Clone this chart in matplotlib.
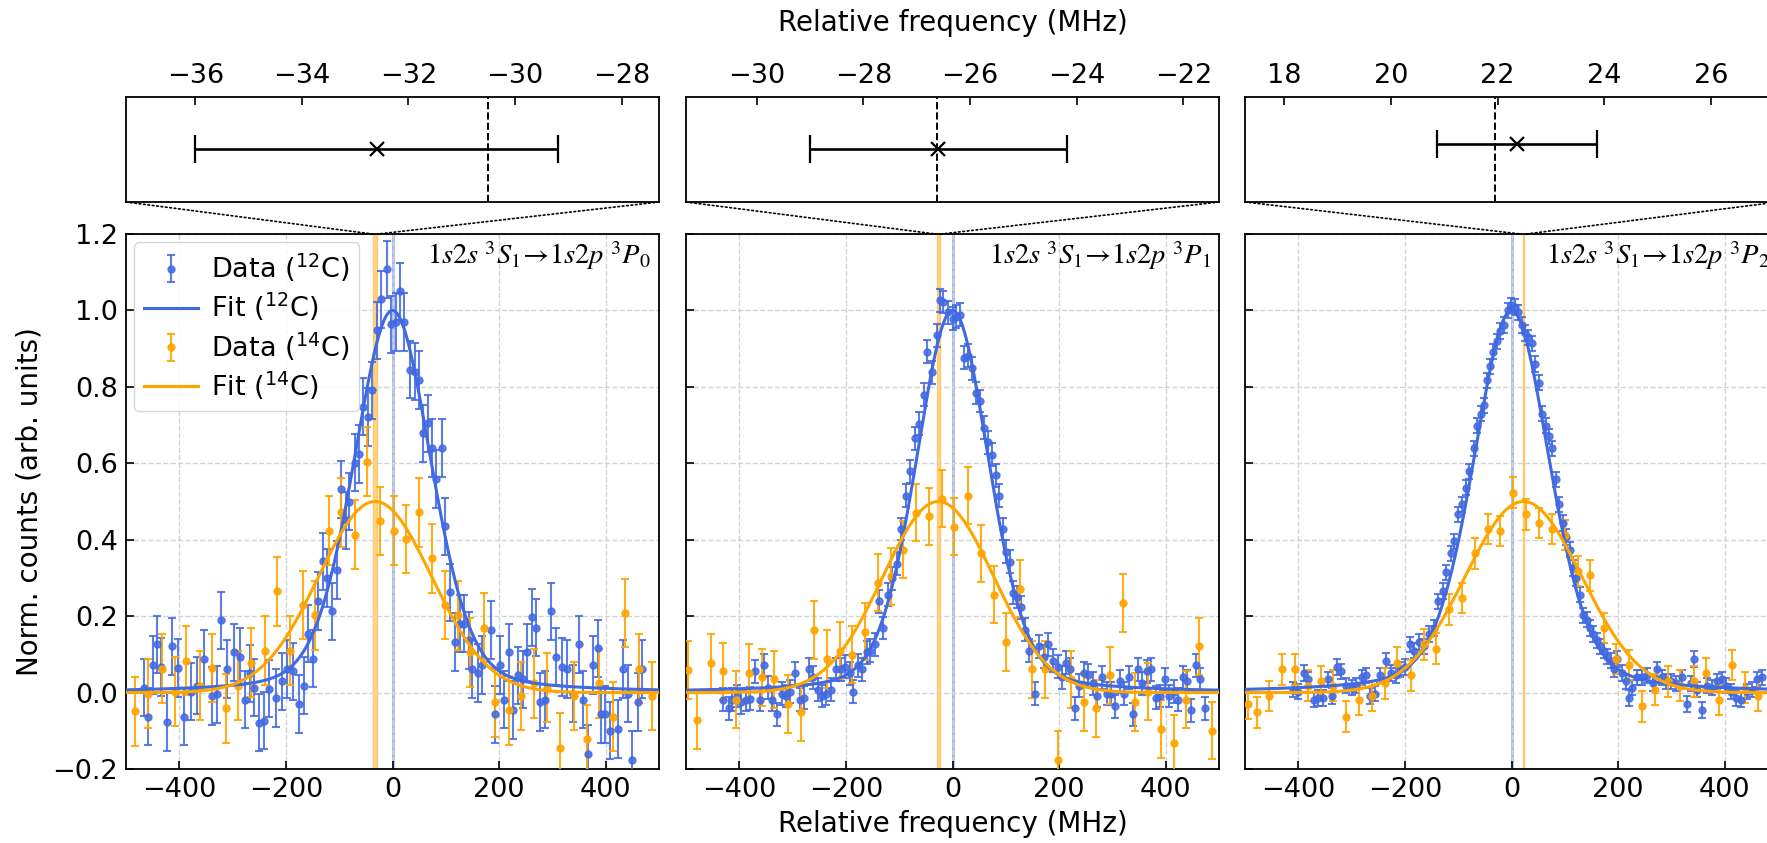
import numpy as np
import matplotlib
matplotlib.use("Agg")
import matplotlib.pyplot as plt
from matplotlib.patches import ConnectionPatch

plt.rcParams['font.family'] = ['DejaVu Sans']
plt.rcParams['mathtext.fontset'] = 'dejavusans'

BLUE = '#4169E1'
ORANGE = '#FFA500'

# ---- panel 1 (3P0) ----
c12_x1 = [-466, -458, -450, -442, -435, -424, -413, -403, -391, -378, -366, -353, -338, -330, -321, -311,
          -298, -287, -277, -268, -260, -250, -242, -232, -218, -208, -197, -187, -175, -166, -158, -149,
          -140, -130, -122, -113, -105, -97, -88, -82, -71, -63, -55, -46, -39, -29, -21, -11, -2, 7, 15,
          21, 32, 42, 49, 57, 67, 74, 82, 92, 99, 108, 118, 126, 134, 143, 150, 160, 168, 185, 193, 202,
          210, 218, 227, 235, 244, 252, 261, 269, 277, 287, 298, 307, 318, 328, 338, 349, 357, 366, 376,
          385, 391, 399, 408, 424, 433, 441, 450, 461, 469]
c12_y1 = [0.013, -0.063, 0.072, 0.126, 0.067, -0.077, 0.121, 0.064, -0.063, 0.002, 0.018, 0.089, -0.009,
          -0.005, 0.189, 0.062, 0.105, 0.094, -0.019, 0.05, 0.013, -0.079, -0.074, 0.01, -0.014, 0.029,
          0.062, 0.056, -0.03, 0.018, 0.154, 0.089, 0.24, 0.343, 0.3, 0.213, 0.321, 0.532, 0.451, 0.5,
          0.602, 0.624, 0.748, 0.721, 0.791, 0.948, 1.029, 1.108, 0.964, 0.97, 1.05, 0.97, 0.845, 0.84,
          0.818, 0.678, 0.705, 0.64, 0.559, 0.64, 0.435, 0.262, 0.132, 0.18, 0.18, 0.137, 0.062, 0.051,
          0.072, 0.164, -0.057, 0.072, -0.019, 0.105, -0.046, 0.045, 0.035, 0.105, 0.197, 0.17, -0.025,
          -0.019, 0.213, 0.094, 0.067, 0.062, -0.003, 0.126, -0.019, -0.16, 0.072, 0.116, -0.057, -0.057,
          -0.1, -0.095, 0.062, -0.003, -0.176, -0.025, 0.062]
c14_x1 = [-483, -458, -433, -408, -387, -361, -338, -313, -290, -265, -239, -217, -192, -168, -145, -119,
          -97, -71, -48, -24, 2, 25, 50, 74, 99, 122, 145, 171, 193, 218, 242, 266, 290, 315, 340, 364,
          388, 413, 437, 462, 487]
c14_y1 = [-0.049, -0.003, 0.062, 0.002, 0.083, 0.018, 0.064, -0.041, 0.018, 0.078, 0.11, 0.265, 0.11,
          0.229, 0.202, 0.424, 0.472, 0.413, 0.604, 0.449, 0.424, 0.402, 0.472, 0.351, 0.229, 0.202,
          0.105, 0.17, -0.025, -0.046, -0.009, 0.024, 0.013, -0.144, -0.009, -0.122, 0.024, -0.063,
          0.208, 0.062, -0.009]

# ---- panel 2 (3P1) ----
c12_x2 = [-430, -419, -413, -404, -396, -387, -379, -370, -362, -354, -346, -338, -329, -320, -312, -304,
          -295, -287, -279, -270, -262, -253, -245, -237, -228, -218, -210, -201, -193, -186, -178, -170,
          -161, -154, -146, -138, -130, -121, -113, -104, -96, -87, -79, -70, -62, -54, -47, -38, -30,
          -23, -17, -9, 0, 7, 15, 21, 30, 37, 44, 52, 60, 67, 74, 81, 87, 94, 101, 107, 114, 121, 128,
          136, 144, 154, 163, 171, 180, 188, 197, 205, 213, 221, 230, 238, 247, 255, 264, 272, 281, 289,
          297, 305, 314, 322, 331, 339, 348, 356, 364, 372, 381, 389, 398, 406, 415, 423, 432, 440, 448,
          456, 465, 473]
c12_y2 = [-0.019, -0.041, -0.019, -0.009, -0.025, -0.019, -0.016, 0.056, -0.019, 0.072, 0.013, -0.019,
          -0.057, -0.003, -0.009, 0.002, 0.051, -0.019, -0.014, 0.061, 0.04, 0.008, -0.009, -0.003, 0.008,
          0.061, 0.061, 0.067, 0.051, 0.002, 0.072, 0.061, 0.105, 0.11, 0.126, 0.239, 0.169, 0.256, 0.299,
          0.337, 0.428, 0.515, 0.579, 0.666, 0.703, 0.779, 0.892, 0.838, 0.935, 1.027, 1.022, 0.995,
          0.978, 0.984, 0.989, 0.876, 0.881, 0.849, 0.784, 0.763, 0.693, 0.655, 0.622, 0.569, 0.515,
          0.428, 0.369, 0.342, 0.261, 0.25, 0.223, 0.164, 0.11, -0.003, 0.121, 0.094, 0.126, 0.083, 0.067,
          0.04, 0.078, 0.061, -0.041, 0.018, 0.051, 0.045, 0.024, -0.009, 0.04, -0.003, -0.003, -0.036,
          0.029, -0.003, 0.04, -0.057, 0.061, 0.024, 0.056, 0.061, -0.014, -0.009, 0.035, -0.009, 0.002,
          -0.019, 0.04, 0.029, -0.046, 0.072, 0.035, -0.041]
c14_x2 = [-497, -479, -454, -430, -406, -381, -358, -334, -309, -284, -260, -236, -212, -188, -164, -140,
          -116, -92, -68, -44, -20, 3, 29, 54, 77, 101, 126, 150, 173, 198, 223, 247, 270, 295, 319, 342,
          366, 391, 415, 438, 463, 487]
c14_y2 = [0.059, -0.073, 0.078, 0.056, -0.019, 0.051, 0.04, 0.035, -0.03, -0.052, 0.164, 0.088, 0.11,
          0.099, 0.159, 0.288, 0.304, 0.374, 0.471, 0.461, 0.507, 0.434, 0.515, 0.364, 0.256, 0.132,
          0.272, 0.061, 0.061, -0.176, 0.035, -0.025, -0.041, 0.045, 0.234, -0.025, 0.002, -0.095,
          -0.133, -0.019, 0.121, -0.1]

# ---- panel 3 (3P2) ----
c12_x3 = [-410, -400, -390, -381, -371, -363, -354, -345, -337, -328, -320, -310, -300, -291, -281, -273,
          -265, -256, -246, -236, -227, -217, -209, -200, -191, -182, -173, -164, -155, -146, -137, -129,
          -123, -114, -108, -100, -92, -85, -79, -71, -65, -58, -52, -46, -40, -34, -27, -21, -15, -7, -1,
          6, 12, 19, 25, 31, 38, 44, 51, 57, 64, 70, 76, 83, 89, 96, 102, 109, 115, 121, 128, 134, 141,
          147, 153, 160, 166, 173, 179, 186, 192, 198, 207, 215, 220, 226, 236, 245, 255, 265, 273, 282,
          290, 300, 309, 319, 329, 337, 342, 348, 358, 366, 376, 385, 394, 403, 412, 422, 431, 441, 451,
          460, 470]
c12_y3 = [0.008, 0.002, 0.051, 0.035, -0.019, -0.014, -0.014, 0.035, -0.009, 0.067, 0.056, 0.018, 0.013,
          0.018, 0.04, 0.045, -0.009, -0.003, 0.045, 0.083, 0.051, 0.045, 0.061, 0.067, 0.126, 0.11,
          0.132, 0.121, 0.153, 0.169, 0.239, 0.266, 0.315, 0.364, 0.396, 0.466, 0.493, 0.536, 0.579,
          0.639, 0.698, 0.73, 0.752, 0.817, 0.854, 0.892, 0.919, 0.946, 0.962, 1.0, 1.013, 1.009, 0.995,
          0.962, 0.941, 0.93, 0.914, 0.86, 0.811, 0.73, 0.698, 0.671, 0.639, 0.558, 0.493, 0.444, 0.407,
          0.374, 0.326, 0.299, 0.256, 0.202, 0.191, 0.169, 0.153, 0.137, 0.121, 0.11, 0.094, 0.083,
          0.061, 0.088, 0.051, 0.029, -0.014, 0.013, 0.04, 0.04, 0.045, 0.024, 0.061, 0.04, 0.029, 0.029,
          0.024, 0.04, -0.03, 0.024, 0.088, 0.008, -0.046, 0.018, 0.013, 0.029, 0.035, 0.018, 0.002,
          -0.014, -0.019, 0.002, 0.008, 0.035, 0.04]
c14_x3 = [-495, -478, -455, -431, -406, -382, -358, -334, -310, -286, -262, -238, -214, -189, -165, -141,
          -117, -93, -69, -45, -21, 3, 28, 51, 76, 100, 124, 148, 173, 196, 221, 245, 269, 293, 317, 342,
          365, 390, 413, 438, 462]
c14_y3 = [-0.03, -0.052, -0.009, 0.061, 0.061, 0.018, 0.029, 0.018, -0.063, -0.019, -0.009, 0.024,
          0.078, 0.045, 0.126, 0.115, 0.218, 0.247, 0.364, 0.428, 0.423, 0.523, 0.466, 0.444, 0.428,
          0.412, 0.318, 0.307, 0.169, 0.088, 0.072, -0.036, 0.008, 0.029, 0.018, 0.029, 0.051, -0.019,
          0.072, 0.013, -0.009]

# error bar sizes per series
err12 = [0.075, 0.03, 0.02]
err14 = [0.09, 0.075, 0.04]

# fit parameters: (centre, amplitude, FWHM, lorentz fraction)
fit12 = [(0.0, 1.0, 172, 0.25), (0.0, 1.0, 162, 0.25), (0.0, 1.0, 170, 0.3)]
fit14 = [(-32.6, 0.5, 250, 0.0), (-26.6, 0.5, 245, 0.0), (22.4, 0.5, 258, 0.0)]

# isotope shift result (lower, upper of the error bar), marker, dashed reference
shift_lo = [-36.0, -29.0, 20.86]
shift_hi = [-29.19, -24.19, 23.86]
shift_val = [-32.6, -26.6, 22.37]
shift_ref = [-30.5, -26.63, 21.95]
shift_y = [0.5, 0.5, 0.55]
inset_xlim = [(-37.3, -27.3), (-31.33, -21.33), (17.26, 27.26)]
inset_ticks = [[-36, -34, -32, -30, -28], [-30, -28, -26, -24, -22], [18, 20, 22, 24, 26]]

labels = [r'$1s2s\ ^3S_1\!\rightarrow\!1s2p\ ^3P_0$',
          r'$1s2s\ ^3S_1\!\rightarrow\!1s2p\ ^3P_1$',
          r'$1s2s\ ^3S_1\!\rightarrow\!1s2p\ ^3P_2$']

xs12 = [c12_x1, c12_x2, c12_x3]
ys12 = [c12_y1, c12_y2, c12_y3]
xs14 = [c14_x1, c14_x2, c14_x3]
ys14 = [c14_y1, c14_y2, c14_y3]


def pvoigt(x, c, a, fwhm, eta):
    s = fwhm / 2.3548
    g = np.exp(-(x - c) ** 2 / (2 * s ** 2))
    lor = 1 / (1 + ((x - c) / (fwhm / 2)) ** 2)
    return a * (eta * lor + (1 - eta) * g)


fig = plt.figure(figsize=(17.67, 8.43), dpi=100)
lefts = [126 / 1767, 686 / 1767, 1245 / 1767]
w = 533 / 1767
xf = np.linspace(-500, 500, 800)
TFS = 19.5
LFS = 20

for i in range(3):
    ax = fig.add_axes([lefts[i], 0.0878, w, 0.6346])
    ins = fig.add_axes([lefts[i], 0.7604, w, 0.1246])

    ax.grid(True, ls='--', color='lightgray', lw=1, zorder=0)
    ax.axvline(0, color=BLUE, alpha=0.5, lw=2, zorder=1)
    ax.axvspan(shift_lo[i], shift_hi[i], color=ORANGE, alpha=0.45, lw=1, zorder=1)

    d12 = ax.errorbar(xs12[i], ys12[i], yerr=err12[i], fmt='o', color=BLUE, ms=5, capsize=3,
                      elinewidth=1.5, capthick=1.5, alpha=0.85, zorder=3)
    f12, = ax.plot(xf, pvoigt(xf, *fit12[i]), color=BLUE, lw=2.2, zorder=4)
    d14 = ax.errorbar(xs14[i], ys14[i], yerr=err14[i], fmt='o', color=ORANGE, ms=5, capsize=3,
                      elinewidth=1.5, capthick=1.5, alpha=0.9, zorder=3)
    f14, = ax.plot(xf, pvoigt(xf, *fit14[i]), color=ORANGE, lw=2.2, zorder=4)

    ax.set_xlim(-500, 500)
    ax.set_ylim(-0.2, 1.2)
    ax.set_xticks([-400, -200, 0, 200, 400])
    ax.set_yticks([-0.2, 0.0, 0.2, 0.4, 0.6, 0.8, 1.0, 1.2])
    ax.tick_params(direction='in', labelsize=TFS, length=6, width=1.2, pad=6)
    for s in ax.spines.values():
        s.set_linewidth(1.3)
    ax.text(0.985, 0.99, labels[i], transform=ax.transAxes, ha='right', va='top',
            fontsize=20.5, math_fontfamily='stix')
    if i == 0:
        ax.set_ylabel('Norm. counts (arb. units)', fontsize=LFS, labelpad=6)
        ax.legend([d12, f12, d14, f14],
                  [r'Data ($^{12}$C)', r'Fit ($^{12}$C)', r'Data ($^{14}$C)', r'Fit ($^{14}$C)'],
                  loc='upper left', fontsize=19.5, handlelength=2.0, borderpad=0.35,
                  labelspacing=0.25, handletextpad=0.5, borderaxespad=0.3)
    else:
        ax.set_yticklabels([])
    if i == 1:
        ax.set_xlabel('Relative frequency (MHz)', fontsize=LFS, labelpad=5)

    # inset with the fitted isotope shift
    ins.errorbar([shift_val[i]], [shift_y[i]],
                 xerr=[[shift_val[i] - shift_lo[i]], [shift_hi[i] - shift_val[i]]],
                 fmt='x', color='k', ms=9.5, mew=1.6, capsize=10, elinewidth=1.9, capthick=1.6)
    ins.axvline(shift_ref[i], color='k', ls='--', lw=1.4)
    ins.set_xlim(*inset_xlim[i])
    ins.set_ylim(0, 1)
    ins.set_xticks(inset_ticks[i])
    ins.set_yticks([])
    ins.xaxis.tick_top()
    ins.tick_params(direction='in', labelsize=TFS, length=6, width=1.2, pad=6)
    for s in ins.spines.values():
        s.set_linewidth(1.3)

    # dotted zoom lines from inset to main axes
    for xv in inset_xlim[i]:
        con = ConnectionPatch(xyA=(xv, 0), coordsA=ins.transData,
                              xyB=(xv, 1.2), coordsB=ax.transData,
                              color='k', ls=':', lw=1.2)
        fig.add_artist(con)

    if i == 1:
        fig.text(lefts[i] + w / 2, 0.973, 'Relative frequency (MHz)', ha='center', va='center',
                 fontsize=LFS)

fig.savefig('out.png', dpi=100)
